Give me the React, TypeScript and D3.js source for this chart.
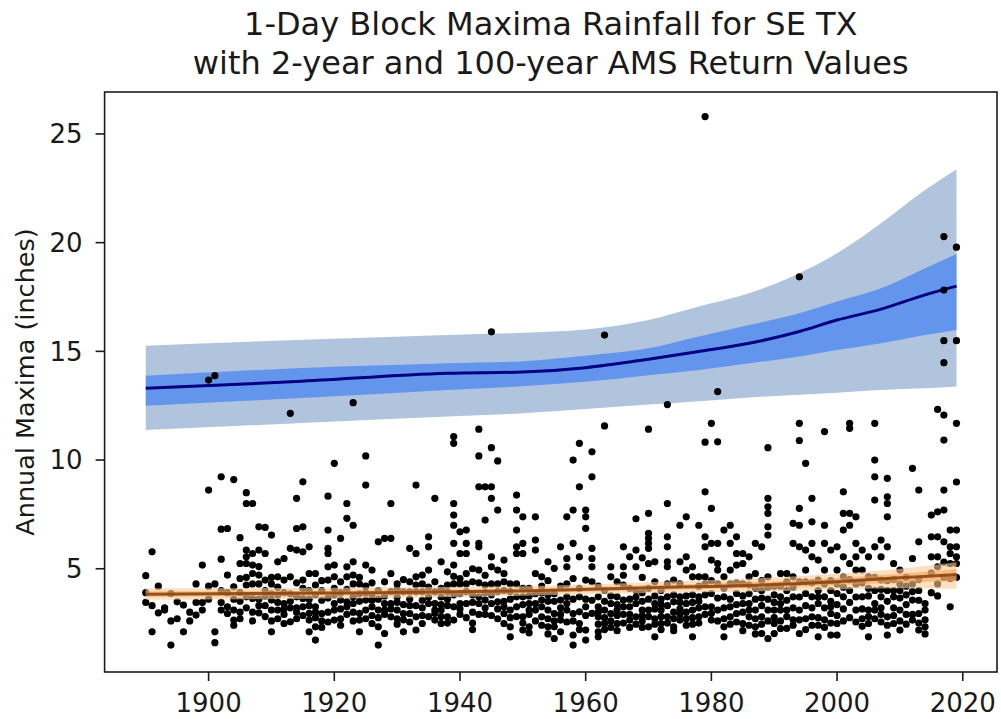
import React from "react";
import * as d3 from "d3";

// ---- Data ----
const firstYear = 1890;
// Annual block maxima (inches) per year, 1890..2019
const annualMaxima: number[][] = [
  [4.68, 3.45, 3.9], // 1890
  [5.78, 2.1, 3.3],
  [4.2, 2.97],
  [3.1, 3.2],
  [3.86, 1.49, 2.6],
  [3.48, 2.7],
  [3.33, 2.1],
  [2.6, 3.0],
  [4.3, 3.45, 2.87],
  [5.17, 3.45, 3.1],
  [13.68, 8.62, 4.2, 3.6], // 1900
  [13.88, 4.3, 2.1, 1.6],
  [9.23, 6.82, 5.44, 3.45, 3.1, 4.0],
  [6.85, 4.71, 3.25, 2.94, 3.9],
  [9.1, 4.17, 3.1, 2.64, 2.4, 3.6],
  [6.43, 5.24, 4.55, 2.7, 3.5, 3.9, 3.0],
  [8.5, 8.0, 5.86, 5.55, 5.24, 4.25, 3.71, 4.6, 3.2],
  [8.0, 5.7, 5.17, 4.78, 3.63, 3.0, 4.3, 2.6],
  [6.93, 5.86, 4.71, 4.3, 2.97, 3.6, 3.3, 5.1],
  [6.9, 5.7, 4.48, 4.0, 3.3, 3.75, 2.8],
  [6.55, 4.3, 3.56, 3.1, 2.1, 4.6, 3.85, 2.6], // 1910
  [5.32, 4.63, 3.79, 3.1, 2.7, 3.45, 4.15],
  [5.47, 4.48, 3.4, 2.48, 3.9, 3.15, 2.9],
  [12.15, 5.94, 4.63, 2.56, 3.5, 3.85, 3.2],
  [8.24, 6.85, 5.86, 3.71, 3.2, 2.7, 4.35, 3.0],
  [9.0, 6.93, 5.78, 4.48, 3.63, 3.25, 4.1, 2.85],
  [6.01, 4.78, 4.0, 2.64, 2.1, 3.3, 3.6, 2.95],
  [4.78, 3.25, 2.33, 1.72, 3.8, 2.75, 4.25, 3.0],
  [2.94, 4.0, 2.6, 3.55, 2.3, 4.45],
  [8.34, 6.78, 5.94, 5.7, 5.09, 4.48, 3.0, 3.65, 2.55],
  [9.85, 5.17, 4.63, 3.4, 3.1, 2.64, 3.8, 4.1], // 1920
  [6.4, 4.4, 3.56, 2.7, 3.9, 3.15, 2.4],
  [8.0, 7.32, 5.09, 4.63, 3.48, 2.9, 4.05, 3.25],
  [12.64, 7.0, 5.32, 4.71, 4.3, 3.71, 3.0, 2.6, 3.4],
  [4.3, 2.64, 2.1, 3.5, 3.85, 2.95, 4.6],
  [10.19, 8.85, 5.17, 3.56, 3.1, 2.7, 4.2, 3.9],
  [4.94, 3.25, 2.48, 3.8, 3.55, 2.85, 4.35],
  [6.24, 3.1, 2.33, 1.49, 4.0, 3.6, 2.75],
  [6.4, 4.4, 3.4, 2.02, 2.9, 3.75, 3.1],
  [8.0, 6.4, 4.78, 3.4, 2.79, 3.95, 3.15],
  [4.3, 3.1, 2.7, 3.7, 4.05, 2.45, 3.45], // 1930
  [3.94, 2.94, 2.1, 4.5, 3.35, 2.65],
  [5.94, 4.4, 3.94, 2.94, 3.3, 3.6, 2.55],
  [8.85, 5.7, 4.63, 3.94, 2.79, 2.18, 3.3, 4.25],
  [4.71, 3.94, 2.48, 3.2, 3.55, 2.85, 4.3],
  [6.47, 6.01, 4.94, 3.4, 2.8, 4.15, 3.7],
  [8.24, 3.94, 3.4, 2.64, 4.4, 3.1, 2.95],
  [5.32, 3.1, 2.48, 3.7, 4.1, 3.35, 2.8],
  [4.86, 3.94, 2.79, 3.3, 3.6, 4.25, 2.5],
  [11.08, 10.77, 8.0, 7.47, 7.0, 6.17, 5.17, 4.3, 3.25, 2.64, 3.8, 4.65],
  [6.7, 5.7, 4.3, 3.4, 2.9, 3.85, 4.55, 3.15], // 1940
  [6.78, 6.17, 5.7, 4.78, 4.3, 3.4, 3.95, 2.75],
  [5.0, 3.8, 3.0, 2.5, 4.4, 3.45, 2.2],
  [11.42, 10.19, 8.77, 6.17, 6.01, 4.94, 3.71, 3.4, 4.35, 2.9],
  [8.77, 7.24, 4.25, 3.56, 2.9, 3.9, 4.7, 3.2],
  [15.9, 10.57, 8.77, 8.24, 5.55, 5.09, 4.3, 3.4, 3.8, 2.85],
  [9.96, 7.7, 4.94, 4.3, 3.48, 3.95, 2.7, 3.15],
  [5.4, 4.78, 4.0, 2.94, 2.48, 3.5, 3.25, 4.4],
  [3.1, 2.33, 1.87, 3.6, 2.75, 3.95, 4.3],
  [8.39, 7.7, 6.78, 6.01, 5.7, 4.3, 3.71, 3.25, 2.8],
  [7.39, 6.17, 5.7, 3.71, 2.79, 2.18, 4.1, 3.35, 2.5], // 1950
  [3.4, 2.33, 4.1, 2.9, 3.75, 2.05, 3.1],
  [7.39, 6.32, 5.86, 4.78, 3.4, 3.1, 2.6, 3.85],
  [4.63, 3.56, 2.79, 3.9, 2.4, 3.25, 4.2],
  [5.32, 3.1, 2.33, 3.8, 2.7, 3.5, 4.45, 2.0],
  [5.02, 2.94, 2.33, 1.79, 3.5, 3.85, 2.6],
  [6.01, 3.56, 2.64, 2.1, 4.2, 3.2, 2.9],
  [7.39, 5.47, 5.09, 4.3, 3.71, 3.1, 2.55, 3.4],
  [10.0, 7.7, 6.17, 4.55, 2.94, 1.95, 1.49, 3.6, 2.6],
  [10.77, 8.77, 5.55, 3.71, 3.02, 2.48, 4.1, 2.2],
  [7.7, 7.39, 6.86, 4.48, 2.18, 1.72, 3.6, 2.85, 3.25], // 1960
  [10.38, 9.23, 5.94, 5.47, 5.09, 4.4, 3.55, 2.95],
  [3.71, 3.25, 2.79, 1.87, 4.2, 2.45, 3.0, 2.1],
  [15.75, 11.57, 3.1, 2.48, 4.0, 3.5, 2.75, 2.2],
  [5.09, 4.63, 3.4, 2.94, 2.6, 3.75, 2.3],
  [3.71, 3.1, 2.48, 4.4, 2.85, 3.35, 2.15],
  [6.01, 5.09, 4.25, 3.56, 2.9, 2.5, 3.25, 4.7],
  [5.55, 3.25, 2.64, 4.1, 2.9, 3.6, 2.3],
  [7.3, 5.86, 5.09, 4.0, 2.79, 3.4, 2.45, 3.7],
  [5.5, 4.6, 3.5, 2.6, 3.1, 2.85, 3.9, 2.3],
  [11.42, 7.55, 6.63, 6.4, 6.17, 5.94, 5.24, 3.1, 2.33, 3.6, 2.8, 4.1], // 1970
  [5.32, 4.4, 3.4, 1.87, 2.7, 3.15, 2.45, 3.75],
  [4.0, 3.1, 2.48, 3.6, 2.8, 3.35, 2.2],
  [12.55, 8.0, 6.47, 6.01, 5.32, 5.09, 3.71, 2.79, 3.3, 4.3, 2.5],
  [4.48, 3.48, 2.33, 3.0, 2.7, 3.8, 2.15],
  [7.0, 5.32, 3.71, 2.64, 4.3, 3.15, 2.9, 3.45],
  [7.39, 5.55, 4.94, 3.4, 2.4, 3.0, 3.75, 2.7],
  [5.09, 4.63, 3.1, 1.87, 3.8, 2.45, 3.45, 2.75],
  [7.0, 4.63, 3.71, 2.79, 3.2, 4.2, 2.5, 3.5],
  [25.8, 10.82, 8.54, 6.47, 6.01, 4.63, 3.25, 3.8, 2.9, 4.3],
  [11.69, 7.78, 6.17, 5.4, 3.86, 2.64, 3.25, 4.45, 2.95], // 1980
  [13.15, 10.84, 6.17, 5.24, 4.94, 4.3, 3.1, 3.65, 2.6],
  [6.78, 4.63, 3.71, 2.33, 1.87, 3.2, 2.7, 4.1],
  [7.0, 6.17, 4.94, 3.25, 2.79, 3.6, 4.3, 2.45],
  [6.47, 5.7, 5.17, 3.86, 2.94, 3.35, 2.55, 4.35],
  [5.7, 5.24, 4.3, 3.4, 2.48, 3.0, 3.75, 2.15],
  [5.55, 4.63, 3.4, 2.79, 3.85, 2.4, 3.1, 4.25],
  [6.17, 4.78, 3.1, 2.33, 3.6, 2.7, 4.1, 2.0],
  [6.01, 4.0, 2.79, 2.02, 3.3, 3.65, 2.45, 4.45],
  [10.57, 8.24, 7.85, 7.55, 6.93, 6.55, 4.63, 3.1, 1.79, 3.6, 2.6, 4.15],
  [3.1, 2.48, 2.02, 4.2, 3.45, 2.75, 3.8], // 1990
  [4.78, 3.71, 3.1, 2.6, 4.2, 3.4, 2.25],
  [4.78, 4.0, 3.1, 2.26, 3.55, 2.8, 4.4],
  [7.09, 6.17, 4.63, 3.71, 3.2, 2.65, 4.15, 2.4],
  [18.43, 11.69, 10.9, 7.78, 7.0, 6.01, 3.1, 2.02, 3.7, 4.4, 2.65],
  [9.85, 5.86, 4.94, 3.86, 3.3, 2.7, 4.4, 2.2],
  [8.24, 7.16, 6.17, 5.55, 3.71, 2.79, 4.35, 3.2, 2.4],
  [5.4, 4.48, 4.0, 3.4, 1.87, 2.75, 3.7, 2.4],
  [11.31, 7.0, 6.17, 4.94, 3.71, 3.2, 2.65, 4.3, 2.3],
  [5.86, 4.0, 2.94, 1.95, 3.5, 2.5, 4.45, 3.25],
  [6.01, 4.94, 3.86, 2.48, 1.95, 3.35, 4.3, 2.85], // 2000
  [8.54, 7.55, 6.78, 5.55, 4.63, 3.71, 4.15, 3.15, 2.6],
  [11.69, 11.46, 7.55, 7.0, 5.24, 4.0, 3.45, 2.75, 4.5],
  [7.39, 6.17, 5.55, 4.94, 3.1, 3.7, 2.55, 4.3],
  [5.86, 4.94, 3.71, 4.35, 3.15, 2.7, 2.35],
  [5.55, 4.63, 3.1, 2.48, 1.87, 3.75, 4.1, 2.8],
  [11.69, 10.0, 9.23, 8.16, 6.01, 4.0, 3.4, 4.6, 2.7, 3.1],
  [6.32, 5.55, 4.48, 3.71, 3.2, 2.55, 4.05, 2.9],
  [9.16, 8.31, 8.0, 7.39, 6.01, 4.0, 2.79, 1.95, 3.5, 4.45, 2.4],
  [5.24, 3.71, 2.48, 4.5, 3.2, 2.85, 4.0],
  [4.94, 4.3, 3.1, 2.18, 3.65, 2.6, 4.0], // 2010
  [4.6, 3.8, 2.9, 3.35, 2.45, 4.2],
  [9.62, 5.47, 4.3, 3.56, 2.64, 3.95, 2.9],
  [8.62, 6.24, 4.0, 2.94, 2.18, 3.55, 2.5, 4.5],
  [3.1, 2.33, 2.65, 3.4, 2.0],
  [7.47, 6.47, 5.55, 4.8, 3.9],
  [12.33, 7.62, 6.47, 5.55, 5.09, 4.3, 3.75],
  [20.28, 17.82, 15.49, 14.48, 12.07, 10.92, 8.62, 7.7, 6.24, 5.3, 4.6],
  [6.78, 6.01, 5.24, 3.25, 4.55, 5.7],
  [19.79, 15.49, 11.69, 8.99, 6.78, 6.01, 5.24, 4.6, 5.55], // 2019
];

// 100-year return value (AMS) with confidence bands
const rv100Years = [1890, 1914, 1938, 1950, 1960, 1970, 1978, 1986, 1994, 2000, 2007, 2014, 2019];
const rv100OuterHigh = [15.26, 15.52, 15.75, 15.85, 16.0, 16.44, 17.06, 17.67, 18.59, 19.51, 20.89, 22.42, 23.37];
const rv100InnerHigh = [13.88, 14.22, 14.45, 14.55, 14.8, 15.14, 15.68, 16.21, 16.75, 17.29, 17.9, 18.82, 19.48];
const rv100Center = [13.3, 13.61, 13.99, 14.05, 14.25, 14.64, 14.99, 15.37, 15.91, 16.44, 16.94, 17.6, 18.0];
const rv100InnerLow = [12.5, 12.84, 13.22, 13.4, 13.6, 13.9, 14.14, 14.45, 14.76, 15.06, 15.37, 15.75, 15.98];
const rv100OuterLow = [11.38, 11.69, 12.0, 12.15, 12.35, 12.55, 12.7, 12.88, 13.0, 13.1, 13.22, 13.3, 13.38];

// 2-year return value (AMS) with confidence band
const rv2Years = [1890, 1920, 1950, 1970, 1995, 2010, 2019];
const rv2Center = [3.83, 3.88, 3.98, 4.12, 4.33, 4.58, 4.73];
const rv2Low = [3.57, 3.63, 3.76, 3.88, 4.0, 4.1, 4.08];
const rv2High = [4.1, 4.13, 4.2, 4.38, 4.68, 5.0, 5.3];

const xTicks = [1900, 1920, 1940, 1960, 1980, 2000, 2020];
const yTicks = [5, 10, 15, 20, 25];

const titleLines = ["1-Day Block Maxima Rainfall for SE TX", "with 2-year and 100-year AMS Return Values"];
const yLabel = "Annual Maxima (inches)";

// ---- Layout ----
const W = 1001;
const H = 719;
const L = 104.6;
const R = 997;
const T = 92;
const B = 672;
const FONT = "'DejaVu Sans', sans-serif";
const INK = "#1a1a1a";

export default function App() {
  const x = d3.scaleLinear().domain([1883.45, 2025.45]).range([L, R]);
  const y = d3.scaleLinear().domain([0.25, 26.93]).range([B, T]);

  const points: { yr: number; v: number }[] = [];
  annualMaxima.forEach((vals, i) => vals.forEach((v) => points.push({ yr: firstYear + i, v })));

  const area = (lo: number[], hi: number[], yrs: number[]) =>
    d3
      .area<number>()
      .x((i) => x(yrs[i]))
      .y0((i) => y(lo[i]))
      .y1((i) => y(hi[i]))
      .curve(d3.curveMonotoneX)(yrs.map((_, i) => i)) || "";
  const line = (c: number[], yrs: number[]) =>
    d3
      .line<number>()
      .x((i) => x(yrs[i]))
      .y((i) => y(c[i]))
      .curve(d3.curveMonotoneX)(yrs.map((_, i) => i)) || "";

  const rv2InnerLow = rv2Center.map((c, i) => c - (c - rv2Low[i]) * 0.45);
  const rv2InnerHigh = rv2Center.map((c, i) => c + (rv2High[i] - c) * 0.45);

  return (
    <div style={{ position: "absolute", left: 0, top: 0 }}>
      <svg width={W} height={H} style={{ display: "block", background: "#fff" }}>
        <defs>
          <clipPath id="plot">
            <rect x={L} y={T} width={R - L} height={B - T} />
          </clipPath>
        </defs>
        <g clipPath="url(#plot)">
          <path d={area(rv100OuterLow, rv100OuterHigh, rv100Years)} fill="#B0C4DE" />
          <path d={area(rv100InnerLow, rv100InnerHigh, rv100Years)} fill="#6495ED" />
          <path d={line(rv100Center, rv100Years)} fill="none" stroke="#000080" strokeWidth={3} />
          {points.map((p, i) => (
            <circle key={i} cx={x(p.yr)} cy={y(p.v)} r={3.6} fill="#000" />
          ))}
          <path d={area(rv2Low, rv2High, rv2Years)} fill="#FBC895" fillOpacity={0.6} />
          <path d={area(rv2InnerLow, rv2InnerHigh, rv2Years)} fill="#F29A4A" fillOpacity={0.5} />
          <path d={line(rv2Center, rv2Years)} fill="none" stroke="#8B4513" strokeWidth={3} strokeOpacity={0.9} />
        </g>
        <rect x={L} y={T} width={R - L} height={B - T} fill="none" stroke={INK} strokeWidth={1.6} />
        {xTicks.map((t) => (
          <g key={t} transform={`translate(${x(t)},${B})`}>
            <line y1={0} y2={9} stroke={INK} strokeWidth={1.6} />
            <text y={40} textAnchor="middle" fontFamily={FONT} fontSize={26} fill={INK}>
              {t}
            </text>
          </g>
        ))}
        {yTicks.map((t) => (
          <g key={t} transform={`translate(${L},${y(t)})`}>
            <line x1={-9} x2={0} stroke={INK} strokeWidth={1.6} />
            <text x={-22} dy="0.36em" textAnchor="end" fontFamily={FONT} fontSize={26} fill={INK}>
              {t}
            </text>
          </g>
        ))}
        <text
          transform={`translate(34,${(T + B) / 2}) rotate(-90)`}
          textAnchor="middle"
          fontFamily={FONT}
          fontSize={25.5}
          fill={INK}
        >
          {yLabel}
        </text>
        {titleLines.map((s, i) => (
          <text
            key={i}
            x={(L + R) / 2}
            y={35 + i * 39}
            textAnchor="middle"
            fontFamily={FONT}
            fontSize={32}
            fill={INK}
          >
            {s}
          </text>
        ))}
      </svg>
    </div>
  );
}
